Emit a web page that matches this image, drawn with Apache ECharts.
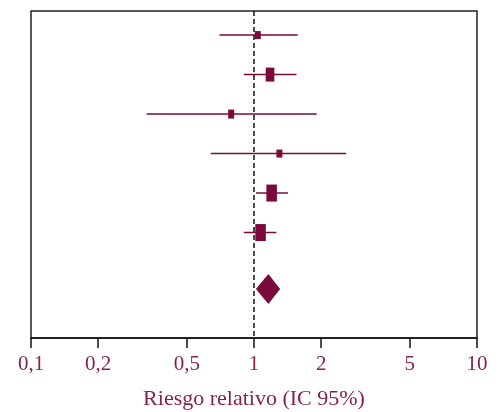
<!DOCTYPE html>
<html><head><meta charset="utf-8">
<script src="https://cdn.jsdelivr.net/npm/echarts@6/dist/echarts.min.js"></script>
<style>html,body{margin:0;padding:0;background:#fff}#c{width:498px;height:412px}</style>
</head><body><div id="c"></div>
<script>
// Study estimates (relative risk) with 95% CI
const estimate = [1.04, 1.18, 0.79, 1.30, 1.20, 1.07];
const lower    = [0.70, 0.90, 0.33, 0.64, 1.02, 0.90];
const upper    = [1.57, 1.55, 1.91, 2.59, 1.42, 1.26];
const weight   = [8, 14, 9, 8, 17, 17];
// Pooled estimate: [estimate, lower, upper]
const pooled = [1.16, 1.02, 1.31];
const tickValues = [0.1, 0.2, 0.5, 1, 2, 5, 10];
const axisTitle = 'Riesgo relativo (IC 95%)';

const rowPos = estimate.map((_, i) => i + 1);
const pooledPos = 7.43;
const maroon = '#7a0a3c';
const textColor = '#86224f';
const serif = '"Liberation Serif", "DejaVu Serif", serif';

const studyData = estimate.map((e, i) => [e, rowPos[i], lower[i], upper[i], weight[i]]);

const chart = echarts.init(document.getElementById('c'), null, {renderer: 'canvas'});
chart.setOption({
  animation: false,
  grid: {left: 31, right: 21, top: 11, bottom: 74, show: true, borderColor: '#222', borderWidth: 1.5,
         backgroundColor: 'transparent', outerBoundsMode: 'none', containLabel: false},
  xAxis: {
    type: 'log', logBase: 10, min: 0.1, max: 10,
    name: axisTitle, nameLocation: 'middle', nameGap: 50,
    nameTextStyle: {color: textColor, fontFamily: serif, fontSize: 22},
    axisLine: {show: true, lineStyle: {color: '#111', width: 1.5}},
    axisTick: {show: true, length: 10, inside: false, customValues: tickValues, lineStyle: {color: '#111', width: 1.5}},
    axisLabel: {customValues: tickValues, margin: 16, color: textColor, fontFamily: serif, fontSize: 21,
      formatter: v => String(v).replace('.', ',')},
    splitLine: {show: false}, minorTick: {show: false}
  },
  yAxis: {type: 'value', inverse: true, min: 0.39, max: 8.67, show: false},
  series: [
    {
      type: 'custom',
      data: studyData,
      encode: {x: 0, y: 1},
      renderItem: function (params, api) {
        const y = api.value(1);
        const pLo = api.coord([api.value(2), y]);
        const pHi = api.coord([api.value(3), y]);
        const pE = api.coord([api.value(0), y]);
        const w = api.value(4);
        const h = w;
        const bw = Math.max(6, w * 0.62);
        return {
          type: 'group',
          children: [
            {type: 'line', shape: {x1: pLo[0], y1: pLo[1], x2: pHi[0], y2: pHi[1]},
             style: {stroke: maroon, lineWidth: 1.5}},
            {type: 'rect', shape: {x: pE[0] - bw / 2, y: pE[1] - h / 2, width: bw, height: h},
             style: {fill: maroon}}
          ]
        };
      },
      markLine: {
        silent: true, symbol: 'none', label: {show: false},
        lineStyle: {color: '#111', type: [5, 3], width: 1.5},
        data: [{xAxis: 1}]
      }
    },
    {
      type: 'custom',
      data: [[pooled[0], pooledPos, pooled[1], pooled[2]]],
      encode: {x: 0, y: 1},
      renderItem: function (params, api) {
        const y = api.value(1);
        const c = api.coord([api.value(0), y]);
        const lo = api.coord([api.value(2), y]);
        const hi = api.coord([api.value(3), y]);
        const half = 15;
        return {
          type: 'polygon',
          shape: {points: [[lo[0], c[1]], [c[0], c[1] - half], [hi[0], c[1]], [c[0], c[1] + half]]},
          style: {fill: maroon}
        };
      }
    }
  ]
});
</script></body></html>
